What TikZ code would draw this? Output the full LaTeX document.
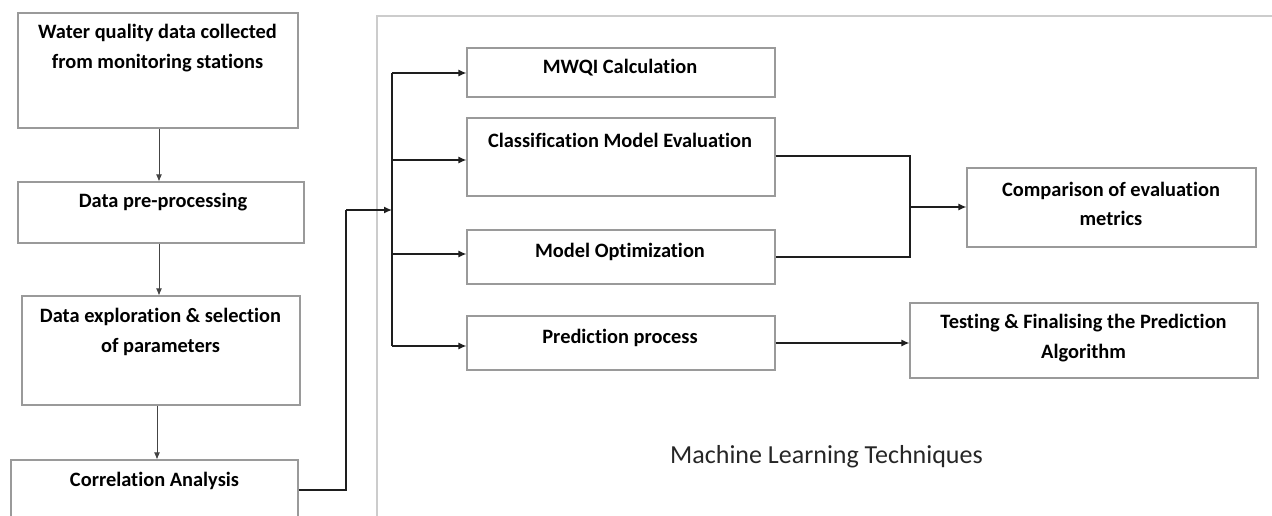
\documentclass[tikz,border=0pt]{standalone}
\usepackage{fontspec}
\setmainfont{Carlito}[Ligatures=NoCommon]
\usetikzlibrary{arrows.meta}
\definecolor{boxline}{HTML}{9A9A9A}
\definecolor{frameline}{HTML}{CCCCCC}
\definecolor{linkdark}{HTML}{1E1E1E}
\definecolor{linkgray}{HTML}{444444}
\begin{document}
\begin{tikzpicture}[x=1pt,y=-1pt,
  box/.style={draw=boxline, line width=1.1pt, rectangle, inner sep=0pt},
  lbl/.style={font=\fontsize{20.4}{30}\selectfont\bfseries, align=center, inner sep=0pt},
  thinarr/.style={draw=linkgray, line width=0.9pt, -{Latex[length=7pt,width=6pt]}},
  arr/.style={draw=linkdark, line width=1.4pt, -{Latex[length=8pt,width=7pt]}},
  link/.style={draw=linkdark, line width=1.4pt}]
\useasboundingbox (0,0) rectangle (1272,516);
\clip (0,0) rectangle (1272,516);
\fill[white] (0,0) rectangle (1272,516);

% frame of the machine learning area
\draw[frameline, line width=1.3pt] (377,540) -- (377,16) -- (1290,16);
\node[anchor=west, font=\fontsize{26}{30}\selectfont, inner sep=0pt, text=black!85] (mlt) at (670,457) {Machine Learning Techniques};

% left column boxes
\node[box, minimum width=280pt, minimum height=115pt] (wq) at (158,70.5) {};
\node[box, minimum width=286pt, minimum height=61pt] (pre) at (161,212.5) {};
\node[box, minimum width=278pt, minimum height=109pt] (expl) at (161,350.5) {};
\node[box, minimum width=287pt, minimum height=80pt] (corr) at (154.5,500) {};

\node[lbl] (wqt) at (157.5,48) {Water quality data collected\\from monitoring stations};
\node[lbl] (pret) at (163,202) {Data pre-processing};
\node[lbl] (explt) at (160.5,332) {Data exploration \& selection\\of parameters};
\node[lbl] (corrt) at (154.5,481) {Correlation Analysis};

% right boxes
\node[box, minimum width=308pt, minimum height=49pt] (mwqi) at (621,72.5) {};
\node[box, minimum width=308pt, minimum height=78pt] (cls) at (621,157) {};
\node[box, minimum width=308pt, minimum height=54pt] (opt) at (621,257) {};
\node[box, minimum width=308pt, minimum height=54pt] (pred) at (621,343) {};
\node[box, minimum width=289pt, minimum height=79pt] (comp) at (1111.5,207.5) {};
\node[box, minimum width=348pt, minimum height=75pt] (test) at (1084,340.5) {};

\node[lbl] (mwqit) at (620,68) {MWQI Calculation};
\node[lbl] (clst) at (620,140) {Classification Model Evaluation};
\node[lbl] (optt) at (620,252) {Model Optimization};
\node[lbl] (predt) at (620,338) {Prediction process};
\node[lbl, font=\fontsize{20.4}{29}\selectfont\bfseries] (compt) at (1111,203.5) {Comparison of evaluation\\metrics};
\node[lbl] (testt) at (1083.5,338) {Testing \& Finalising the Prediction\\Algorithm};

% left column flow
\draw[thinarr] (wq.south -| 159,0) -- (pre.north -| 159,0);
\draw[thinarr] (pre.south -| 159,0) -- (expl.north -| 159,0);
\draw[thinarr] (expl.south -| 157,0) -- (corr.north -| 157,0);

% bus distributing to the techniques
\coordinate (bustop) at (392,73);
\coordinate (busbot) at (392,346);
\coordinate (busin) at (392,210);
\coordinate (bend1) at (346,490);
\coordinate (bend2) at (346,210);
\draw[link] (corr.east |- bend1) -- (bend1) -- (bend2);
\draw[arr] (bend2) -- (busin);
\draw[link] (bustop) -- (busbot);
\draw[arr] (bustop) -- (mwqi.west |- bustop);
\draw[arr] (392,160) -- (cls.west |- 0,160);
\draw[arr] (392,254) -- (opt.west |- 0,254);
\draw[arr] (busbot) -- (pred.west |- busbot);

% merging evaluation results
\coordinate (m1) at (910,156);
\coordinate (m2) at (910,257);
\coordinate (mm) at (910,207);
\draw[link] (cls.east |- m1) -- (m1) -- (m2) -- (opt.east |- m2);
\draw[arr] (mm) -- (comp.west |- mm);
\draw[arr] (pred.east) -- (test.west |- pred.east);
\end{tikzpicture}
\end{document}
